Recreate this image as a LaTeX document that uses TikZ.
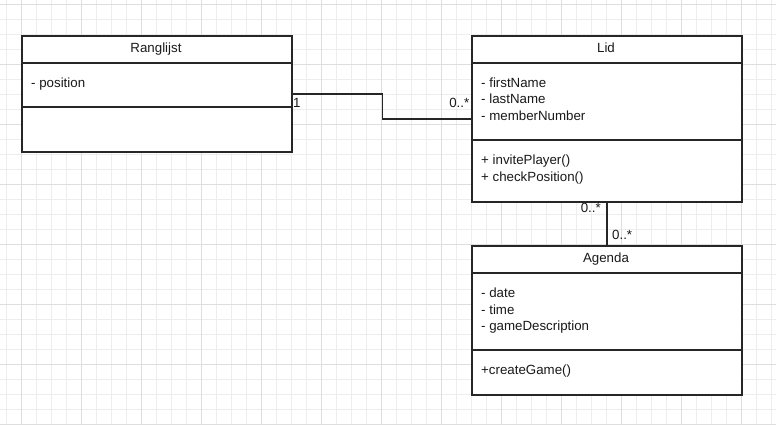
\documentclass[tikz,border=0pt]{standalone}
\usepackage{fontspec}
\setmainfont{Liberation Sans}
\begin{document}
\begin{tikzpicture}[x=1pt,y=-1pt,
  gridminor/.style={draw=black!7,line width=0.8pt},
  gridmajor/.style={draw=black!13,line width=0.8pt},
  umlclass/.style={draw=black!85,fill=white,line width=1.6pt,minimum width=270pt,inner sep=0pt,anchor=north west},
  sep/.style={draw=black!85,line width=1.6pt},
  conn/.style={draw=black!85,line width=1.6pt},
  txt/.style={font=\fontsize{13.3}{15}\selectfont,inner sep=0pt,anchor=base west,text=black!90},
  title/.style={font=\fontsize{13.3}{15}\selectfont,inner sep=0pt,anchor=base,text=black!90},
  mult/.style={font=\fontsize{13.3}{15}\selectfont,inner sep=0pt,text=black!90}]
\useasboundingbox (0,0) rectangle (776,425);
\fill[white] (0,0) rectangle (776,425);
% background grid
\foreach \gx in {6,21,...,776} \draw[gridminor] (\gx,0) -- (\gx,425);
\foreach \gy in {4,19,...,425} \draw[gridminor] (0,\gy) -- (776,\gy);
\foreach \gx in {21,81,...,776} \draw[gridmajor] (\gx,0) -- (\gx,425);
\foreach \gy in {4,64,...,425} \draw[gridmajor] (0,\gy) -- (776,\gy);

% class Ranglijst
\node[umlclass,minimum height=116pt] (rang) at (21,35) {};
\draw[sep] (21,63) -- (291,63);
\draw[sep] (21,107) -- (291,107);
\node[title] (rangT) at (156,52.5) {Ranglijst};
\node[txt] (rangA1) at (31,87.5) {- position};

% class Lid
\node[umlclass,minimum height=166pt] (lid) at (471,35) {};
\draw[sep] (471,63) -- (741,63);
\draw[sep] (471,140) -- (741,140);
\node[title] (lidT) at (606,52.5) {Lid};
\node[txt] (lidA1) at (481,87.5) {- firstName};
\node[txt] (lidA2) at (481,104) {- lastName};
\node[txt] (lidA3) at (481,120.5) {- memberNumber};
\node[txt] (lidM1) at (481,164.5) {+ invitePlayer()};
\node[txt] (lidM2) at (481,181) {+ checkPosition()};

% class Agenda
\node[umlclass,minimum height=149pt] (agenda) at (471,245) {};
\draw[sep] (471,273) -- (741,273);
\draw[sep] (471,350) -- (741,350);
\node[title] (agT) at (606,262) {Agenda};
\node[txt] (agA1) at (481,297.5) {- date};
\node[txt] (agA2) at (481,314) {- time};
\node[txt] (agA3) at (481,330.5) {- gameDescription};
\node[txt] (agM1) at (481,374.5) {+createGame()};

% associations
\draw[conn] (rang.east) -- ++(90,0) |- (lid.west);
\draw[conn] (lid.south) -- (agenda.north);

% multiplicities
\node[mult,anchor=base west] (m1) at (293,107.5) {1};
\node[mult,anchor=base east] (m2) at (469.5,108) {0..*};
\node[mult,anchor=base east] (m3) at (601,212.5) {0..*};
\node[mult,anchor=base west] (m4) at (612,239.5) {0..*};
\end{tikzpicture}
\end{document}
